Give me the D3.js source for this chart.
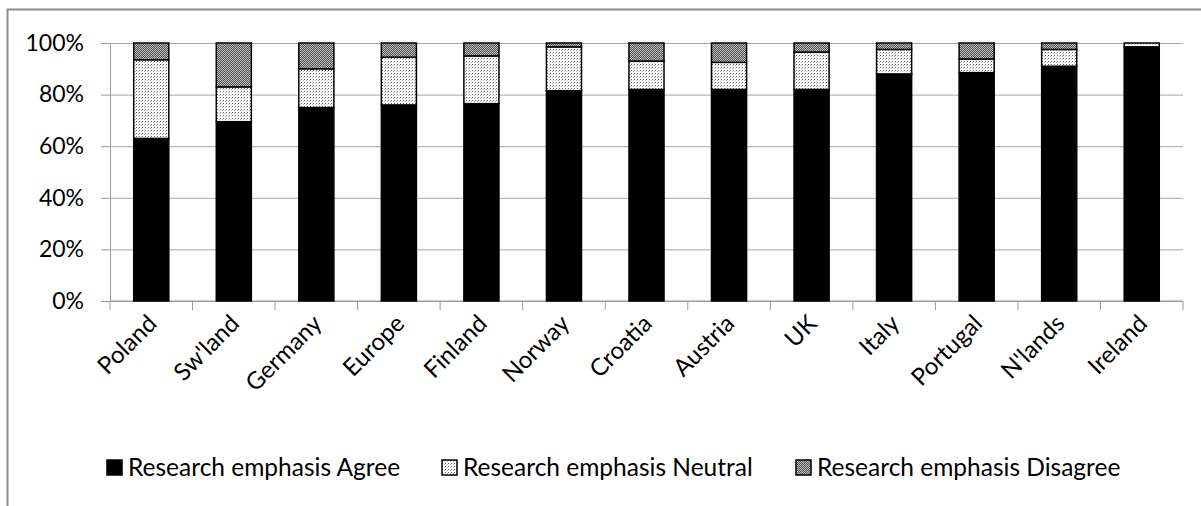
<!DOCTYPE html>
<html>
<head>
<meta charset="utf-8">
<script src="https://cdn.jsdelivr.net/npm/d3@7"></script>
<style>
  body { margin: 0; background: #fff; }
  text { font-family: Lato, "Open Sans", sans-serif; fill: #000; }
</style>
</head>
<body>
<div id="chart"></div>
<script>
const categories = ["Poland", "Sw'land", "Germany", "Europe", "Finland", "Norway", "Croatia",
  "Austria", "UK", "Italy", "Portugal", "N'lands", "Ireland"];
const agree    = [63, 69.5, 75, 76, 76.5, 81.5, 82, 82, 82, 88, 88.5, 91, 98.5];
const neutral  = [30.5, 13.5, 15, 18.5, 18.5, 17, 11, 10.5, 14.5, 9.5, 5.3, 6.5, 1.5];
const disagree = [6.5, 17, 10, 5.5, 5, 1.5, 7, 7.5, 3.5, 2.5, 6.2, 2.5, 0];
const seriesNames = ["Research emphasis Agree", "Research emphasis Neutral", "Research emphasis Disagree"];
const yTicks = [0, 0.2, 0.4, 0.6, 0.8, 1];

const W = 1201, H = 506;
const PLOT = { LEFT: 110, RIGHT: 1183, TOP: 43, BOTTOM: 301 };

const svg = d3.select("#chart").append("svg")
  .attr("width", W)
  .attr("height", H);

const defs = svg.append("defs");

// light dotted fill for neutral
const pN = defs.append("pattern")
  .attr("id", "pNeutral")
  .attr("width", 3).attr("height", 3)
  .attr("patternUnits", "userSpaceOnUse");
pN.append("rect").attr("width", 3).attr("height", 3).attr("fill", "#fff");
pN.append("rect").attr("x", 1).attr("y", 1).attr("width", 1).attr("height", 1).attr("fill", "#666");
pN.append("rect").attr("x", 0).attr("y", 2).attr("width", 1).attr("height", 1).attr("fill", "#bbb");

// dark dotted fill for disagree
const pD = defs.append("pattern")
  .attr("id", "pDisagree")
  .attr("width", 2).attr("height", 2)
  .attr("patternUnits", "userSpaceOnUse");
pD.append("rect").attr("width", 2).attr("height", 2).attr("fill", "#555");
pD.append("rect").attr("x", 0).attr("y", 0).attr("width", 1).attr("height", 1).attr("fill", "#bbb");
pD.append("rect").attr("x", 1).attr("y", 1).attr("width", 1).attr("height", 1).attr("fill", "#bbb");

const fills = ["#000", "url(#pNeutral)", "url(#pDisagree)"];

// chart border (clipped at right and bottom)
svg.append("rect")
  .attr("x", 7.5).attr("y", 9.5)
  .attr("width", W + 10).attr("height", H + 10)
  .attr("fill", "none")
  .attr("stroke", "#8c8c8c")
  .attr("stroke-width", 2);

const table = categories.map((c, i) => ({
  name: c, agree: agree[i], neutral: neutral[i], disagree: disagree[i]
}));

const stack = d3.stack()
  .keys(["agree", "neutral", "disagree"])
  .offset(d3.stackOffsetExpand);
const layers = stack(table);

const x = d3.scaleBand()
  .domain(categories)
  .range([PLOT.LEFT, PLOT.RIGHT])
  .paddingInner(0.575)
  .paddingOuter(0.2875);

const y = d3.scaleLinear()
  .domain([0, 1])
  .range([PLOT.BOTTOM, PLOT.TOP]);

// gridlines + y axis
const yAxis = svg.append("g")
  .attr("transform", `translate(${PLOT.LEFT},0)`)
  .call(d3.axisLeft(y).tickValues(yTicks).tickFormat(d3.format(".0%")).tickSize(9).tickPadding(17));
yAxis.select(".domain").attr("stroke", "#999");
yAxis.selectAll(".tick line").attr("stroke", "#999");
yAxis.selectAll(".tick text").attr("font-size", 23).style("font-family", "Lato");
yAxis.selectAll(".tick").append("line")
  .attr("x1", 0).attr("x2", PLOT.RIGHT - PLOT.LEFT)
  .attr("stroke", "#a6a6a6");

// x axis with ticks at category boundaries
const xAxis = svg.append("g")
  .attr("transform", `translate(0,${PLOT.BOTTOM})`);
xAxis.append("line")
  .attr("x1", PLOT.LEFT).attr("x2", PLOT.RIGHT)
  .attr("stroke", "#999");
const step = x.step();
xAxis.selectAll("line.b")
  .data(d3.range(categories.length + 1))
  .join("line")
  .attr("class", "b")
  .attr("x1", i => PLOT.LEFT + i * step)
  .attr("x2", i => PLOT.LEFT + i * step)
  .attr("y1", 0).attr("y2", 9)
  .attr("stroke", "#999");
xAxis.selectAll("text")
  .data(categories)
  .join("text")
  .attr("text-anchor", "end")
  .attr("font-size", 24)
  .attr("transform", d => `translate(${x(d) + x.bandwidth() / 2 + 7},${24}) rotate(-45)`)
  .text(d => d);

// bars
svg.append("g")
  .selectAll("g")
  .data(layers)
  .join("g")
  .attr("fill", (d, i) => fills[i])
  .selectAll("rect")
  .data(d => d.filter(s => s[1] - s[0] > 0))
  .join("rect")
  .attr("x", d => x(d.data.name))
  .attr("width", x.bandwidth())
  .attr("y", d => y(d[1]))
  .attr("height", d => y(d[0]) - y(d[1]))
  .attr("stroke", "#000")
  .attr("stroke-width", 1.5);

// legend
const legendX = [106, 441, 795];
const legend = svg.append("g");
seriesNames.forEach((s, i) => {
  legend.append("rect")
    .attr("x", legendX[i] + 1).attr("y", 460)
    .attr("width", 15).attr("height", 15)
    .attr("fill", fills[i])
    .attr("stroke", "#000")
    .attr("stroke-width", 1.5);
  legend.append("text")
    .attr("x", legendX[i] + 22).attr("y", 476)
    .attr("font-size", 24.5)
    .text(s);
});
</script>
</body>
</html>
